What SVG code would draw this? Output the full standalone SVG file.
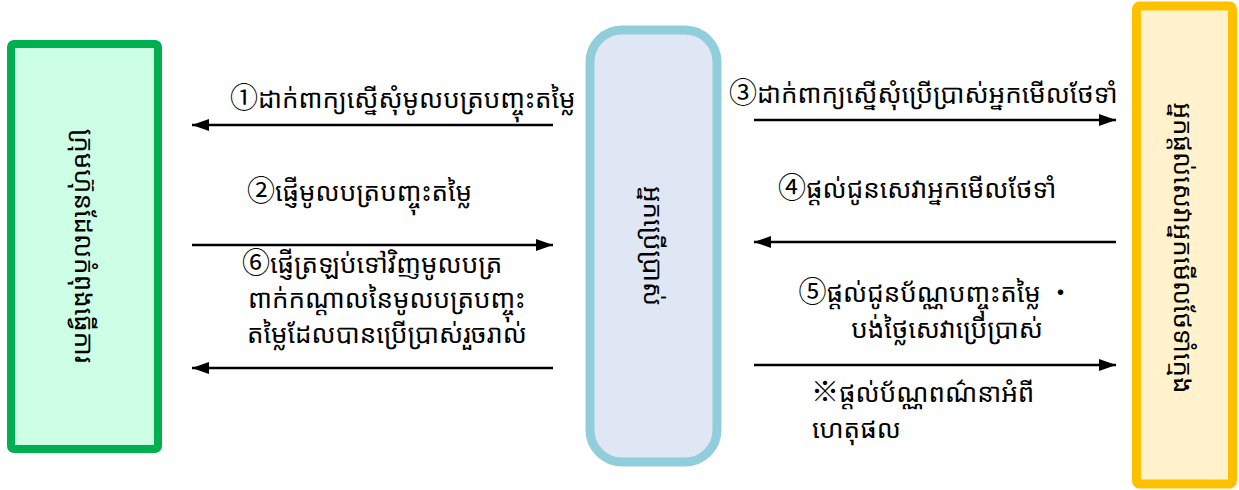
<svg xmlns="http://www.w3.org/2000/svg" width="1239" height="490" viewBox="0 0 1239 490">
<defs>
<marker id="ah" markerUnits="userSpaceOnUse" markerWidth="18" markerHeight="14" refX="17" refY="7" orient="auto">
<path d="M0,1 L17,7 L0,13 z" fill="#000"/>
</marker>
<style>
.t{font-family:'Noto Sans Khmer','Khmer OS System','Noto Sans CJK JP',sans-serif;font-size:26px;fill:#000}
.n{font-size:28px}
.c{stroke:#000;stroke-width:2.5;fill:none;marker-end:url(#ah)}
</style>
</defs>
<rect width="1239" height="490" fill="#fff"/>
<g id="node-left">
<rect x="11" y="44" width="147" height="405" rx="3" fill="#CCFFE6" stroke="#00B050" stroke-width="8"/>
<text class="t" transform="translate(84.5,246) rotate(90)" text-anchor="middle" dominant-baseline="central">ក្រុមហ៊ុនដែលកំពុងធ្វើការ</text>
</g>
<g id="node-center">
<rect x="590" y="30" width="127" height="432" rx="32" fill="#DFE6F4" stroke="#92CDDC" stroke-width="9"/>
<text class="t" transform="translate(653.5,246) rotate(90)" text-anchor="middle" dominant-baseline="central">អ្នកប្រើប្រាស់</text>
</g>
<g id="node-right">
<rect x="1136.5" y="6" width="96" height="478" rx="3" fill="#FFF2CC" stroke="#FFC000" stroke-width="9"/>
<text class="t" transform="translate(1184,248) rotate(90)" text-anchor="middle" dominant-baseline="central">អ្នកផ្ដល់សេវាអ្នកមើលថែទាំក្មេង</text>
</g>
<g id="connectors">
<line class="c" x1="553" y1="125" x2="192" y2="125"/>
<line class="c" x1="192" y1="245" x2="553" y2="245"/>
<line class="c" x1="553" y1="368" x2="192" y2="368"/>
<line class="c" x1="754" y1="120" x2="1116" y2="120"/>
<line class="c" x1="1116" y1="242" x2="754" y2="242"/>
<line class="c" x1="754" y1="365" x2="1116" y2="365"/>
</g>
<g id="labels">
<text class="t" x="230" y="108"><tspan class="n">①</tspan>ដាក់ពាក្យស្នើសុំមូលបត្របញ្ចុះតម្លៃ</text>
<text class="t" x="247" y="201"><tspan class="n">②</tspan>ផ្ញើមូលបត្របញ្ចុះតម្លៃ</text>
<text class="t" x="242" y="273"><tspan class="n">⑥</tspan>ផ្ញើត្រឡប់ទៅវិញមូលបត្រ</text>
<text class="t" x="248" y="308">ពាក់កណ្ដាលនៃមូលបត្របញ្ចុះ</text>
<text class="t" x="247" y="343">តម្លៃដែលបានប្រើប្រាស់រួចរាល់</text>
<text class="t" x="729" y="103"><tspan class="n">③</tspan>ដាក់ពាក្យស្នើសុំប្រើប្រាស់អ្នកមើលថែទាំ</text>
<text class="t" x="778" y="198"><tspan class="n">④</tspan>ផ្ដល់ជូនសេវាអ្នកមើលថែទាំ</text>
<text class="t" x="936" y="302" text-anchor="middle"><tspan class="n">⑤</tspan>ផ្ដល់ជូនប័ណ្ណបញ្ចុះតម្លៃ ・</text>
<text class="t" x="947" y="338" text-anchor="middle">បង់ថ្លៃសេវាប្រើប្រាស់</text>
<text class="t" x="811" y="402"><tspan class="n">※</tspan>ផ្ដល់ប័ណ្ណពណ៌នាអំពី</text>
<text class="t" x="812" y="438">ហេតុផល</text>
</g>
</svg>
